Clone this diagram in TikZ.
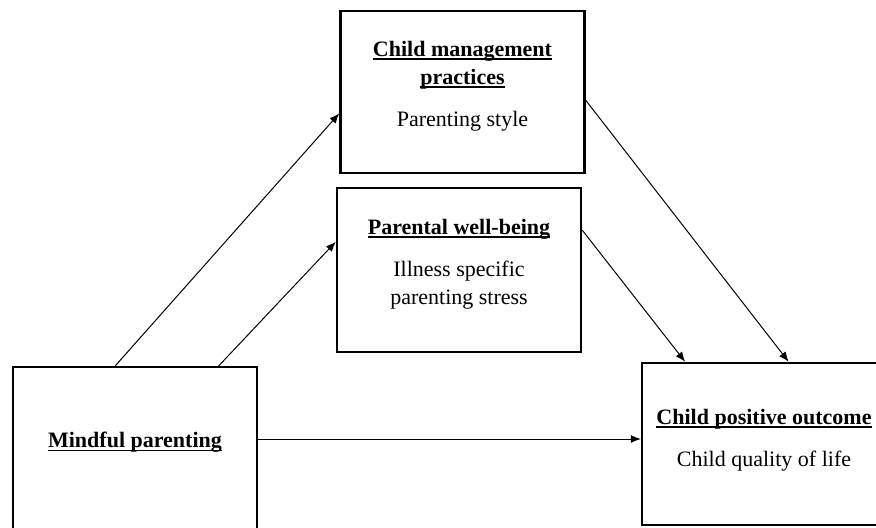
\documentclass[tikz,border=0pt]{standalone}
\usepackage{fontspec}
\setmainfont{Liberation Serif}
\usetikzlibrary{arrows.meta,calc}
\newcommand\headline[1]{\setbox0\hbox{\bfseries #1}\leavevmode\rlap{\rule[-1.9pt]{\wd0}{0.8pt}}\box0}
\begin{document}
\begin{tikzpicture}[x=0.5pt,y=-0.5pt,
        box/.style={draw,line width=1.2pt,minimum width=122pt,minimum height=81pt,inner sep=0pt},
        txt/.style={align=center,font=\fontsize{11}{14}\selectfont,inner sep=0pt},
        link/.style={line width=0.5pt,-{Latex[length=5pt,width=4pt]}}]
    \useasboundingbox (0,0) rectangle (876,527);
    \node[box] (cmp) at (462.5,92) {};
    \node[box,minimum height=82pt] (pwb) at (459,270) {};
    \node[box,minimum height=90pt] (mind) at (135,457) {};
    \node[box] (cpo) at (764,444) {};
    \node[txt] (cmp text) at (462.5,86) {\headline{Child management}\\
        \headline{practices}\\[7pt]
        Parenting style};
    \node[txt] (pwb text) at (459,264) {\headline{Parental well-being}\\[7pt]
        Illness specific\\
        parenting stress};
    \node[txt] (mind text) at (135,442) {\headline{Mindful parenting}};
    \node[txt] (cpo text) at (764,440) {\headline{Child positive outcome}\\[7pt]
        Child quality of life};
    \draw[link] ($(mind.north west)!0.42!(mind.north east)$) -- ($(cmp.north west)!0.63!(cmp.south west)$);
    \draw[link] ($(mind.north west)!0.84!(mind.north east)$) -- ($(pwb.north west)!0.33!(pwb.south west)$);
    \draw[link] (mind.east |- 0,439) -- (cpo.west |- 0,439);
    \draw[link] ($(cmp.north east)!0.55!(cmp.south east)$) -- ($(cpo.north west)!0.6!(cpo.north east)$);
    \draw[link] ($(pwb.north east)!0.26!(pwb.south east)$) -- ($(cpo.north west)!0.18!(cpo.north east)$);
\end{tikzpicture}
\end{document}
